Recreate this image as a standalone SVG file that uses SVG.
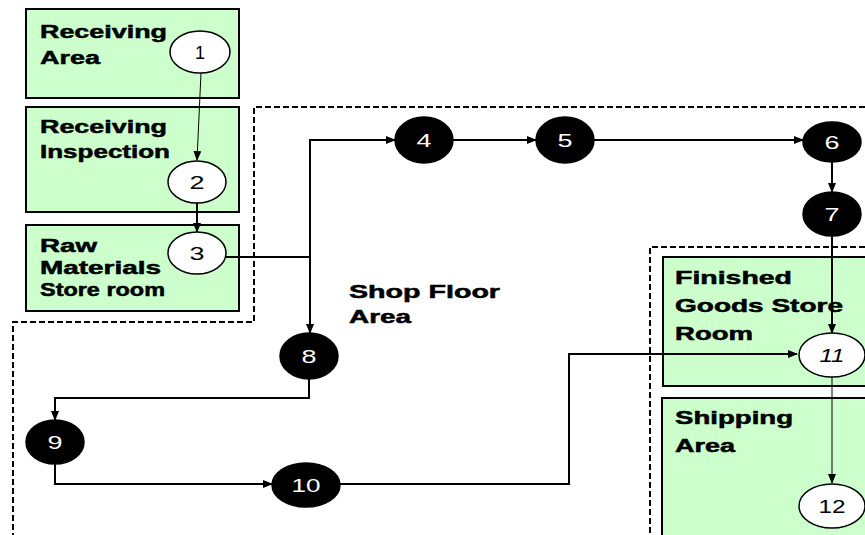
<svg xmlns="http://www.w3.org/2000/svg" width="865" height="535" viewBox="0 0 865 535">
<style>
.area{fill:#CCFFCC;stroke:#000;stroke-width:2}
.dash{fill:none;stroke:#000;stroke-width:2;stroke-dasharray:6,3}
.lbl{font-family:"Liberation Sans",Arial,sans-serif;font-weight:bold;font-size:18px;fill:#000;stroke:#000;stroke-width:0.5}
.wn{fill:#fff;stroke:#000;stroke-width:1.5}
.bn{fill:#000;stroke:#000;stroke-width:1.5}
.num{font-family:"Liberation Sans",Arial,sans-serif;font-size:19px;text-anchor:middle}
.wt{fill:#000}
.bt{fill:#fff}
.c{fill:none;stroke:#000;stroke-width:2}
.ct{fill:none;stroke:#000;stroke-width:1}
</style>
<defs>
<marker id="ah" markerUnits="userSpaceOnUse" markerWidth="10" markerHeight="8" refX="9" refY="4" orient="auto">
<path d="M0,0 L10,4 L0,8 Z" fill="#000"/>
</marker>
</defs>
<rect width="865" height="535" fill="#fff"/>

<g id="areas">
<rect class="area" x="26" y="9" width="213" height="89"/>
<rect class="area" x="26" y="107" width="213" height="105"/>
<rect class="area" x="26" y="225" width="213" height="86"/>
<rect class="area" x="663" y="257" width="210" height="129"/>
<rect class="area" x="662" y="398" width="210" height="150"/>
<path class="dash" d="M865,107 H254 V322 H13 V535"/>
<path class="dash" d="M865,247 H650 V535"/>
</g>

<g id="labels">
<text class="lbl" x="40" y="38" textLength="127" lengthAdjust="spacingAndGlyphs">Receiving</text>
<text class="lbl" x="40" y="64" textLength="60" lengthAdjust="spacingAndGlyphs">Area</text>
<text class="lbl" x="40" y="133" textLength="127" lengthAdjust="spacingAndGlyphs">Receiving</text>
<text class="lbl" x="40" y="158" textLength="130" lengthAdjust="spacingAndGlyphs">Inspection</text>
<text class="lbl" x="40" y="252" textLength="57" lengthAdjust="spacingAndGlyphs">Raw</text>
<text class="lbl" x="40" y="274" textLength="121" lengthAdjust="spacingAndGlyphs">Materials</text>
<text class="lbl" x="40" y="296" textLength="125" lengthAdjust="spacingAndGlyphs">Store room</text>
<text class="lbl" x="349" y="298" textLength="151" lengthAdjust="spacingAndGlyphs">Shop Floor</text>
<text class="lbl" x="349" y="323" textLength="62" lengthAdjust="spacingAndGlyphs">Area</text>
<text class="lbl" x="675" y="284" textLength="117" lengthAdjust="spacingAndGlyphs">Finished</text>
<text class="lbl" x="675" y="312" textLength="168" lengthAdjust="spacingAndGlyphs">Goods Store</text>
<text class="lbl" x="675" y="340" textLength="78" lengthAdjust="spacingAndGlyphs">Room</text>
<text class="lbl" x="675" y="424" textLength="118" lengthAdjust="spacingAndGlyphs">Shipping</text>
<text class="lbl" x="675" y="452" textLength="60" lengthAdjust="spacingAndGlyphs">Area</text>
</g>

<g id="connectors">
<path class="ct" d="M201,73 L197,160" marker-end="url(#ah)"/>
<path class="c" d="M197,203 V232" marker-end="url(#ah)"/>
<path class="c" d="M226,257 H310"/>
<path class="c" d="M310,257 V140 H395" marker-end="url(#ah)"/>
<path class="c" d="M310,257 V333" marker-end="url(#ah)"/>
<path class="c" d="M453,140 H536" marker-end="url(#ah)"/>
<path class="c" d="M594,140 H803" marker-end="url(#ah)"/>
<path class="c" d="M832,162 V192" marker-end="url(#ah)"/>
<path class="c" d="M832,236 V333" marker-end="url(#ah)"/>
<path class="c" d="M309,378 V398 H55 V420" marker-end="url(#ah)"/>
<path class="c" d="M55,463 V484 H272" marker-end="url(#ah)"/>
<path class="c" d="M340,484 H569 V354 H797" marker-end="url(#ah)"/>
<path class="ct" d="M832,377 V483" marker-end="url(#ah)"/>
</g>

<g id="n1"><ellipse class="wn" cx="200" cy="52" rx="30" ry="21"/><text class="num wt" x="200" y="59" textLength="10" lengthAdjust="spacingAndGlyphs">1</text></g>
<g id="n2"><ellipse class="wn" cx="197" cy="182" rx="29" ry="21"/><text class="num wt" x="197" y="189" textLength="15" lengthAdjust="spacingAndGlyphs">2</text></g>
<g id="n3"><ellipse class="wn" cx="197" cy="253" rx="29" ry="21"/><text class="num wt" x="197" y="260" textLength="15" lengthAdjust="spacingAndGlyphs">3</text></g>
<g id="n4"><ellipse class="bn" cx="424" cy="140" rx="29" ry="23"/><text class="num bt" x="424" y="147" textLength="15" lengthAdjust="spacingAndGlyphs">4</text></g>
<g id="n5"><ellipse class="bn" cx="565" cy="140" rx="29" ry="23"/><text class="num bt" x="565" y="147" textLength="15" lengthAdjust="spacingAndGlyphs">5</text></g>
<g id="n6"><ellipse class="bn" cx="832" cy="142" rx="29" ry="20"/><text class="num bt" x="832" y="149" textLength="15" lengthAdjust="spacingAndGlyphs">6</text></g>
<g id="n7"><ellipse class="bn" cx="832" cy="214" rx="29" ry="22"/><text class="num bt" x="832" y="221" textLength="15" lengthAdjust="spacingAndGlyphs">7</text></g>
<g id="n8"><ellipse class="bn" cx="309" cy="356" rx="29" ry="23"/><text class="num bt" x="309" y="363" textLength="15" lengthAdjust="spacingAndGlyphs">8</text></g>
<g id="n9"><ellipse class="bn" cx="55" cy="442" rx="29" ry="22"/><text class="num bt" x="55" y="449" textLength="15" lengthAdjust="spacingAndGlyphs">9</text></g>
<g id="n10"><ellipse class="bn" cx="306" cy="485" rx="34" ry="22"/><text class="num bt" x="306" y="492" textLength="29" lengthAdjust="spacingAndGlyphs">10</text></g>
<g id="n11"><ellipse class="wn" cx="832" cy="355" rx="33" ry="22"/><text class="num wt" x="832" y="362" font-style="italic" textLength="25" lengthAdjust="spacingAndGlyphs">11</text></g>
<g id="n12"><ellipse class="wn" cx="832" cy="506" rx="33" ry="22"/><text class="num wt" x="832" y="513" textLength="27" lengthAdjust="spacingAndGlyphs">12</text></g>
</svg>
